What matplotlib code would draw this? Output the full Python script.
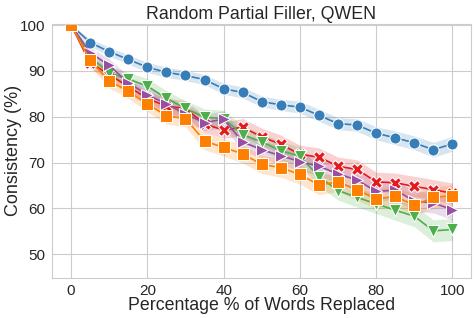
import matplotlib
matplotlib.use("Agg")
import matplotlib.pyplot as plt
import seaborn as sns
import numpy as np

sns.set_style("whitegrid")
plt.rcParams['font.family'] = ['Liberation Sans', 'DejaVu Sans']

x = [0, 5, 10, 15, 20, 25, 30, 35, 40, 45, 50, 55, 60, 65, 70, 75, 80, 85, 90, 95, 100]

blue = [100, 96.2, 94.2, 92.5, 90.8, 89.7, 89.0, 88.1, 86.1, 85.3, 83.3, 82.6, 82.1, 80.3, 78.5, 78.2, 76.4, 75.4, 74.3, 72.8, 74.1]
red = [100, 91.8, 89.2, 86.6, 84.0, 82.3, 81.8, 78.4, 77.1, 77.7, 75.6, 74.0, 71.8, 71.2, 69.2, 68.5, 65.8, 65.6, 64.8, 64.1, 63.3]
green = [100, 93.0, 89.6, 88.2, 86.7, 84.0, 81.8, 79.9, 79.6, 76.1, 74.5, 72.6, 71.4, 66.9, 63.9, 62.4, 61.0, 59.6, 58.3, 55.1, 55.4]
purple = [100, 94.0, 91.2, 87.4, 84.8, 82.8, 80.6, 78.7, 79.5, 74.5, 72.8, 71.5, 70.2, 69.2, 67.5, 66.2, 63.7, 64.0, 61.6, 61.2, 59.7]
orange = [100, 92.3, 87.8, 85.6, 82.8, 80.2, 79.6, 74.7, 73.3, 71.9, 69.6, 68.9, 67.4, 65.1, 65.8, 64.0, 62.1, 62.6, 60.7, 62.4, 62.8]

blue_ci = [0, 0.8, 1.0, 1.0, 1.1, 1.1, 1.1, 1.1, 1.2, 1.2, 1.2, 1.2, 1.3, 1.3, 1.3, 1.4, 1.4, 1.5, 1.5, 1.6, 1.6]
red_ci = [0, 1.2, 1.4, 1.5, 1.6, 1.7, 1.7, 1.8, 1.8, 1.9, 1.9, 2.0, 2.0, 2.0, 2.0, 2.1, 2.1, 2.1, 2.2, 2.2, 2.2]
green_ci = [0, 1.2, 1.4, 1.5, 1.6, 1.7, 1.7, 1.8, 1.8, 1.9, 1.9, 2.0, 2.0, 2.0, 2.1, 2.1, 2.1, 2.2, 2.3, 2.4, 2.4]
purple_ci = [0, 1.2, 1.4, 1.5, 1.6, 1.7, 1.7, 1.8, 1.8, 1.9, 1.9, 2.0, 2.0, 2.0, 2.0, 2.1, 2.1, 2.1, 2.2, 2.2, 2.2]
orange_ci = [0, 1.3, 1.5, 1.6, 1.7, 1.8, 1.8, 1.9, 1.9, 2.0, 2.0, 2.1, 2.1, 2.1, 2.1, 2.2, 2.2, 2.2, 2.3, 2.3, 2.3]

series = [
    (blue, blue_ci, '#377eb8', 'o', 8),
    (red, red_ci, '#e41a1c', 'X', 9),
    (green, green_ci, '#4daf4a', 'v', 8),
    (purple, purple_ci, '#984ea3', '>', 8),
    (orange, orange_ci, '#ff7f00', 's', 8),
]

fig = plt.figure(figsize=(4.77, 3.18), dpi=100)
ax = fig.add_axes([0.109, 0.127, 0.878, 0.797])

for vals, ci, col, mk, ms in series:
    v = np.array(vals)
    c = np.array(ci)
    ax.fill_between(x, v - c, v + c, color=col, alpha=0.2, linewidth=0)
    ax.plot(x, v, color=col, marker=mk, markersize=ms, markeredgecolor='white',
            markeredgewidth=0.75, linewidth=1.2)

ax.set_xlim(-5, 104.8)
ax.set_ylim(44.9, 100.2)
ax.set_xticks([0, 20, 40, 60, 80, 100])
ax.set_yticks([50, 60, 70, 80, 90, 100])
ax.tick_params(labelsize=11, pad=1.2)
ax.set_title("Random Partial Filler, QWEN", fontsize=12.8, pad=4)
ax.set_xlabel("Percentage % of Words Replaced", fontsize=12.8, labelpad=-0.5)
ax.set_ylabel("Consistency (%)", fontsize=13, labelpad=-1.5)

fig.savefig("out.png", dpi=100)
